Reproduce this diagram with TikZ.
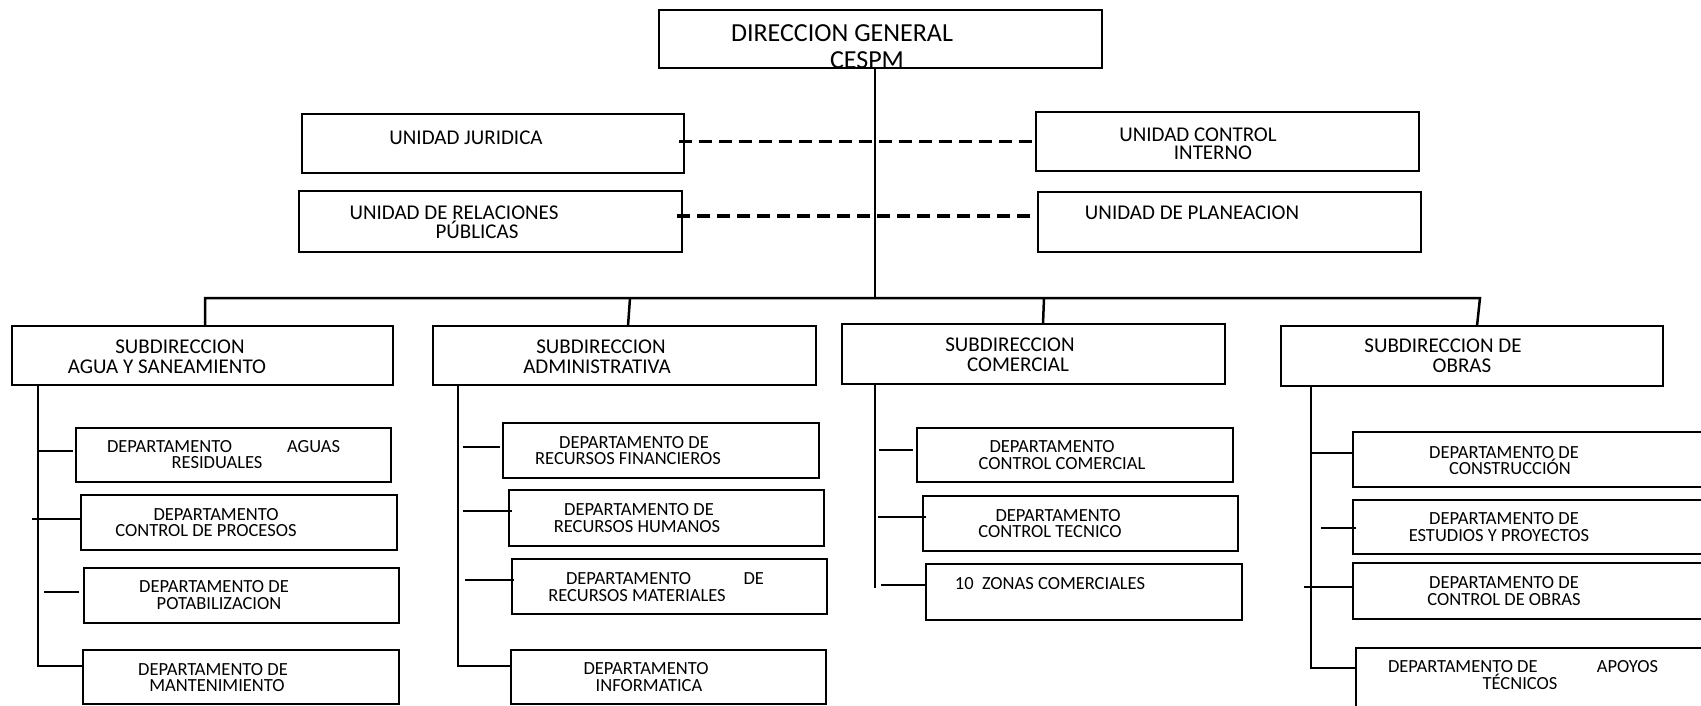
\documentclass[tikz,border=0pt]{standalone}
\usepackage{fontspec}
\setmainfont{Carlito}
\newcommand\sh[2]{\hbox{\kern#1pt\relax#2}}
\begin{document}
\begin{tikzpicture}[x=1pt,y=-1pt,
  bx/.style={draw, rectangle, line width=2.5pt, inner sep=0pt, outer sep=0pt},
  ln/.style={line width=2.5pt},
  dsh/.style={line width=3.5pt, dash pattern=on 13pt off 7pt},
  ttop/.style={inner sep=0pt, align=center, font=\fontsize{26}{27}\selectfont},
  tun/.style={inner sep=0pt, align=center, font=\fontsize{21}{18.5}\selectfont},
  tsub/.style={inner sep=0pt, align=center, font=\fontsize{21}{20}\selectfont},
  tdep/.style={inner sep=0pt, align=center, font=\fontsize{18.5}{16.5}\selectfont}]
\useasboundingbox (0,0) rectangle (1701,705);
\clip (0,0) rectangle (1701,705);
\fill[white] (0,0) rectangle (1701,705);

% boxes
\node[bx, minimum width=443pt, minimum height=58pt] (top) at (880.5,39) {};
\node[bx, minimum width=382pt, minimum height=59pt] (jur) at (493,143.5) {};
\node[bx, minimum width=383pt, minimum height=61pt] (rel) at (490.5,221.5) {};
\node[bx, minimum width=383pt, minimum height=59pt] (ci) at (1227.5,141.5) {};
\node[bx, minimum width=383pt, minimum height=60pt] (pla) at (1229.5,222) {};
\node[bx, minimum width=381pt, minimum height=59pt] (s1) at (202.5,355.5) {};
\node[bx, minimum width=383pt, minimum height=59pt] (s2) at (624.5,355.5) {};
\node[bx, minimum width=383pt, minimum height=60pt] (s3) at (1033.5,354) {};
\node[bx, minimum width=382pt, minimum height=60pt] (s4) at (1472,356) {};
\node[bx, minimum width=315pt, minimum height=54pt] (d11) at (233.5,455) {};
\node[bx, minimum width=316pt, minimum height=55pt] (d12) at (239,522.5) {};
\node[bx, minimum width=315pt, minimum height=55pt] (d13) at (241.5,595.5) {};
\node[bx, minimum width=316pt, minimum height=54pt] (d14) at (241,677) {};
\node[bx, minimum width=316pt, minimum height=55pt] (d21) at (661,450.5) {};
\node[bx, minimum width=315pt, minimum height=56pt] (d22) at (666.5,518) {};
\node[bx, minimum width=315pt, minimum height=55pt] (d23) at (669.5,586.5) {};
\node[bx, minimum width=315pt, minimum height=54pt] (d24) at (668.5,677) {};
\node[bx, minimum width=316pt, minimum height=54pt] (d31) at (1075,455) {};
\node[bx, minimum width=315pt, minimum height=55pt] (d32) at (1080.5,523.5) {};
\node[bx, minimum width=316pt, minimum height=56pt] (d33) at (1084,592) {};
\node[bx, minimum width=367pt, minimum height=55pt] (d41) at (1536.5,459.5) {};
\node[bx, minimum width=367pt, minimum height=54pt] (d42) at (1536.5,527) {};
\node[bx, minimum width=367pt, minimum height=56pt] (d43) at (1536.5,591) {};
\node[bx, minimum width=364pt, minimum height=72pt] (d44) at (1538,684) {};

% texts
\node[ttop] (ttop) at (842,46.5) {DIRECCION GENERAL\\\sh{50}{CESPM}};
\node[tun] (tjur) at (466,138) {UNIDAD JURIDICA};
\node[tun] (trel) at (454,222.5) {UNIDAD DE RELACIONES\\\sh{46}{PÚBLICAS}};
\node[tun] (tci) at (1198,144) {UNIDAD CONTROL\\\sh{30}{INTERNO}};
\node[tun] (tpla) at (1192,213) {UNIDAD DE PLANEACION};
\node[tsub] (ts1) at (180,357) {SUBDIRECCION\\\sh{-26}{AGUA Y SANEAMIENTO}};
\node[tsub] (ts2) at (601,357) {SUBDIRECCION\\\sh{-8}{ADMINISTRATIVA}};
\node[tsub] (ts3) at (1010,355) {SUBDIRECCION\\\sh{16}{COMERCIAL}};
\node[tsub] (ts4) at (1443,356) {SUBDIRECCION DE\\\sh{38}{OBRAS}};
\node[tdep] (td11) at (223.5,454.5) {\makebox[233pt]{DEPARTAMENTO\hfill AGUAS}\\\sh{-13}{RESIDUALES}};
\node[tdep] (td12) at (216,522.5) {DEPARTAMENTO\\\sh{-20}{CONTROL DE PROCESOS}};
\node[tdep] (td13) at (214,595) {DEPARTAMENTO DE\\\sh{10}{POTABILIZACION}};
\node[tdep] (td14) at (213,677.5) {DEPARTAMENTO DE\\\sh{8}{MANTENIMIENTO}};
\node[tdep] (td21) at (634,450.5) {DEPARTAMENTO DE\\\sh{-12}{RECURSOS FINANCIEROS}};
\node[tdep] (td22) at (639,518) {DEPARTAMENTO DE\\\sh{-4}{RECURSOS HUMANOS}};
\node[tdep] (td23) at (665,587) {\makebox[198pt]{DEPARTAMENTO\hfill DE}\\\sh{-56}{RECURSOS MATERIALES}};
\node[tdep] (td24) at (646,677) {DEPARTAMENTO\\\sh{6}{INFORMATICA}};
\node[tdep] (td31) at (1052,455) {DEPARTAMENTO\\\sh{20}{CONTROL COMERCIAL}};
\node[tdep] (td32) at (1058,523.5) {DEPARTAMENTO\\\sh{-16}{CONTROL TECNICO}};
\node[tdep] (td33) at (1050,584) {10\ \ ZONAS COMERCIALES};
\node[tdep] (td41) at (1504,460.5) {DEPARTAMENTO DE\\\sh{12}{CONSTRUCCIÓN}};
\node[tdep] (td42) at (1504,527) {DEPARTAMENTO DE\\\sh{-10}{ESTUDIOS Y PROYECTOS}};
\node[tdep] (td43) at (1504,591) {DEPARTAMENTO DE\\CONTROL DE OBRAS};
\node[tdep] (td44) at (1523,675) {\makebox[270pt]{DEPARTAMENTO DE\hfill APOYOS}\\\sh{-6}{TÉCNICOS}};

% main connectors
\coordinate (bc) at (875,298);
\coordinate (bL) at (205,298);
\coordinate (bR) at (1480,298);
\coordinate (b2) at (630,298);
\coordinate (b3) at (1044,298);
\draw[ln] (top.south -| bc) -- (bc);
\draw[ln] (s1.north -| bL) -- (bL) -- (bR) -- ([xshift=5pt]s4.north);
\draw[ln] (b2) -- ([xshift=3.5pt]s2.north);
\draw[ln] (b3) -- ([xshift=9.5pt]s3.north);

% dashed staff links
\draw[dsh] ([xshift=-5pt]jur.east |- ci.west) -- (ci.west);
\draw[dsh] ([shift={(-5,-5.5)}]rel.east) -- ([shift={(0,-6)}]pla.west);

% trunks
\draw[ln] ([xshift=26pt]s1.south west) |- ([shift={(0,-11)}]d14.west);
\draw[ln] ([xshift=25pt]s2.south west) |- ([shift={(0,-11)}]d24.west);
\draw[ln] ([xshift=33pt]s3.south west) -- ++(0,204);
\draw[ln] ([xshift=30pt]s4.south west) |- ([shift={(0,-16)}]d44.west);

% stubs
\draw[ln] ([shift={(-3,-4)}]d11.west) -- ++(-34,0);
\draw[ln] ([shift={(0,-3.5)}]d12.west) -- ++(-49,0);
\draw[ln] ([shift={(-5,-3.5)}]d13.west) -- ++(-35,0);
\draw[ln] ([shift={(-3,-3.5)}]d21.west) -- ++(-37,0);
\draw[ln] ([shift={(3,-7)}]d22.west) -- ++(-49,0);
\draw[ln] ([shift={(2,-6.5)}]d23.west) -- ++(-49,0);
\draw[ln] ([shift={(-4,-5)}]d31.west) -- ++(-34,0);
\draw[ln] ([shift={(3,-6.5)}]d32.west) -- ++(-48,0);
\draw[ln] ([shift={(0,-7)}]d33.west) -- ++(-45,0);
\draw[ln] ([shift={(0,-6.5)}]d41.west) -- ++(-42,0);
\draw[ln] ([shift={(3,1)}]d42.west) -- ++(-35,0);
\draw[ln] ([shift={(0,-4)}]d43.west) -- ++(-49,0);
\end{tikzpicture}
\end{document}
